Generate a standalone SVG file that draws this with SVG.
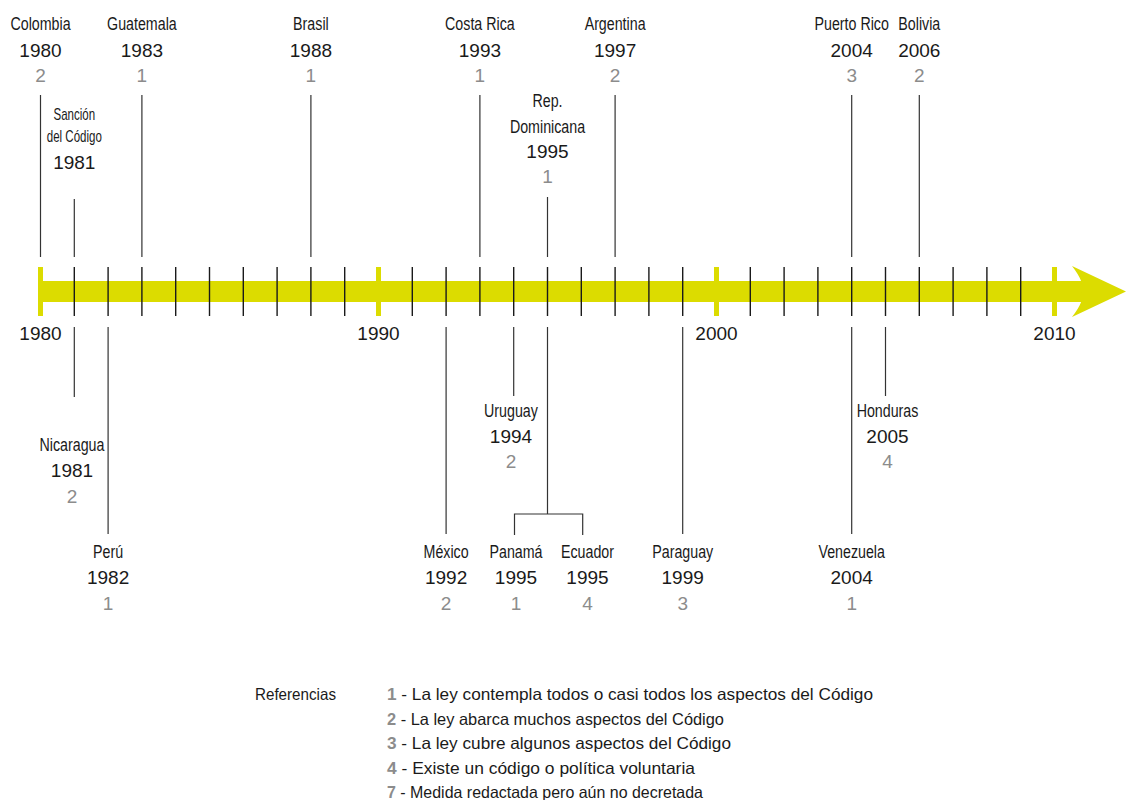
<svg xmlns="http://www.w3.org/2000/svg" width="1130" height="800" viewBox="0 0 1130 800">
<style>
text{font-family:"Liberation Sans",Arial,sans-serif;fill:#1a1a1a;text-anchor:middle}
.n{font-size:18.5px}
.s{font-size:16px}
.y{font-size:19px}
.g{font-size:19px;fill:#8c8c8c}
.lg{font-size:16.5px;text-anchor:start}
.lb{font-weight:bold;fill:#8c8c8c}
.ln{stroke:#333;stroke-width:1.2;fill:none}
.tk{stroke:#1a1a1a;stroke-width:1.4}
.dm{stroke:#dcdc00;stroke-width:5}
</style>
<rect width="1130" height="800" fill="#fff"/>
<g id="axis">
<rect x="40" y="281" width="1045" height="21" fill="#dcdc00"/>
<path d="M1072,266 Q1086,284 1081,291.5 Q1086,299 1072,317 L1126,291.5 Z" fill="#dcdc00"/>
<g class="tk">
<line x1="74.3" y1="267" x2="74.3" y2="316"/><line x1="108.1" y1="267" x2="108.1" y2="316"/><line x1="141.9" y1="267" x2="141.9" y2="316"/><line x1="175.7" y1="267" x2="175.7" y2="316"/><line x1="209.5" y1="267" x2="209.5" y2="316"/><line x1="243.3" y1="267" x2="243.3" y2="316"/><line x1="277.1" y1="267" x2="277.1" y2="316"/><line x1="310.9" y1="267" x2="310.9" y2="316"/><line x1="344.7" y1="267" x2="344.7" y2="316"/>
<line x1="412.3" y1="267" x2="412.3" y2="316"/><line x1="446.1" y1="267" x2="446.1" y2="316"/><line x1="479.9" y1="267" x2="479.9" y2="316"/><line x1="513.7" y1="267" x2="513.7" y2="316"/><line x1="547.5" y1="267" x2="547.5" y2="316"/><line x1="581.3" y1="267" x2="581.3" y2="316"/><line x1="615.1" y1="267" x2="615.1" y2="316"/><line x1="648.9" y1="267" x2="648.9" y2="316"/><line x1="682.7" y1="267" x2="682.7" y2="316"/>
<line x1="750.3" y1="267" x2="750.3" y2="316"/><line x1="784.1" y1="267" x2="784.1" y2="316"/><line x1="817.9" y1="267" x2="817.9" y2="316"/><line x1="851.7" y1="267" x2="851.7" y2="316"/><line x1="885.5" y1="267" x2="885.5" y2="316"/><line x1="919.3" y1="267" x2="919.3" y2="316"/><line x1="953.1" y1="267" x2="953.1" y2="316"/><line x1="986.9" y1="267" x2="986.9" y2="316"/><line x1="1020.7" y1="267" x2="1020.7" y2="316"/>
</g>
<g class="dm">
<line x1="40.5" y1="267" x2="40.5" y2="316"/><line x1="378.5" y1="267" x2="378.5" y2="316"/><line x1="716.5" y1="267" x2="716.5" y2="316"/><line x1="1054.5" y1="267" x2="1054.5" y2="316"/>
</g>
<text class="y" x="40.5" y="340">1980</text>
<text class="y" x="378.5" y="340">1990</text>
<text class="y" x="716.5" y="340">2000</text>
<text class="y" x="1054.5" y="340">2010</text>
</g>
<g id="connectors" class="ln">
<line x1="40.5" y1="95" x2="40.5" y2="257"/>
<line x1="74.3" y1="199" x2="74.3" y2="257"/>
<line x1="141.9" y1="95" x2="141.9" y2="257"/>
<line x1="310.9" y1="95" x2="310.9" y2="257"/>
<line x1="479.9" y1="95" x2="479.9" y2="257"/>
<line x1="547.5" y1="197" x2="547.5" y2="257"/>
<line x1="615.1" y1="95" x2="615.1" y2="257"/>
<line x1="851.7" y1="95" x2="851.7" y2="257"/>
<line x1="919.3" y1="95" x2="919.3" y2="257"/>
<line x1="74.3" y1="327" x2="74.3" y2="397"/>
<line x1="108.1" y1="327" x2="108.1" y2="534"/>
<line x1="446.1" y1="327" x2="446.1" y2="534"/>
<line x1="513.7" y1="327" x2="513.7" y2="396"/>
<path d="M547.5,327 V514 M514.5,535 V514 H582.7 V535"/>
<line x1="682.7" y1="327" x2="682.7" y2="534"/>
<line x1="851.7" y1="327" x2="851.7" y2="534"/>
<line x1="885.5" y1="327" x2="885.5" y2="396"/>
</g>
<g id="colombia"><text class="n" transform="translate(40.5,30) scale(0.77,1)">Colombia</text><text class="y" x="40.5" y="56.5">1980</text><text class="g" x="40.5" y="81.5">2</text></g>
<g id="sancion"><text class="s" transform="translate(74.3,120) scale(0.72,1)">Sanción</text><text class="s" transform="translate(74.3,142) scale(0.72,1)">del Código</text><text class="y" x="74.3" y="168.5">1981</text></g>
<g id="guatemala"><text class="n" transform="translate(141.9,30) scale(0.77,1)">Guatemala</text><text class="y" x="141.9" y="56.5">1983</text><text class="g" x="141.9" y="81.5">1</text></g>
<g id="brasil"><text class="n" transform="translate(310.9,30) scale(0.77,1)">Brasil</text><text class="y" x="310.9" y="56.5">1988</text><text class="g" x="310.9" y="81.5">1</text></g>
<g id="costarica"><text class="n" transform="translate(479.9,30) scale(0.77,1)">Costa Rica</text><text class="y" x="479.9" y="56.5">1993</text><text class="g" x="479.9" y="81.5">1</text></g>
<g id="repdominicana"><text class="n" transform="translate(547.5,107) scale(0.77,1)">Rep.</text><text class="n" transform="translate(547.5,133) scale(0.77,1)">Dominicana</text><text class="y" x="547.5" y="158">1995</text><text class="g" x="547.5" y="182.5">1</text></g>
<g id="argentina"><text class="n" transform="translate(615.1,30) scale(0.77,1)">Argentina</text><text class="y" x="615.1" y="56.5">1997</text><text class="g" x="615.1" y="81.5">2</text></g>
<g id="puertorico"><text class="n" transform="translate(851.7,30) scale(0.77,1)">Puerto Rico</text><text class="y" x="851.7" y="56.5">2004</text><text class="g" x="851.7" y="81.5">3</text></g>
<g id="bolivia"><text class="n" transform="translate(919.3,30) scale(0.77,1)">Bolivia</text><text class="y" x="919.3" y="56.5">2006</text><text class="g" x="919.3" y="81.5">2</text></g>
<g id="nicaragua"><text class="n" transform="translate(72,451) scale(0.77,1)">Nicaragua</text><text class="y" x="72" y="477">1981</text><text class="g" x="72" y="502.5">2</text></g>
<g id="peru"><text class="n" transform="translate(108.1,558) scale(0.77,1)">Perú</text><text class="y" x="108.1" y="584">1982</text><text class="g" x="108.1" y="609.5">1</text></g>
<g id="mexico"><text class="n" transform="translate(446.1,558) scale(0.77,1)">México</text><text class="y" x="446.1" y="584">1992</text><text class="g" x="446.1" y="609.5">2</text></g>
<g id="uruguay"><text class="n" transform="translate(511,416.5) scale(0.77,1)">Uruguay</text><text class="y" x="511" y="443">1994</text><text class="g" x="511" y="467.5">2</text></g>
<g id="panama"><text class="n" transform="translate(516,558) scale(0.77,1)">Panamá</text><text class="y" x="516" y="584">1995</text><text class="g" x="516" y="609.5">1</text></g>
<g id="ecuador"><text class="n" transform="translate(587.5,558) scale(0.77,1)">Ecuador</text><text class="y" x="587.5" y="584">1995</text><text class="g" x="587.5" y="609.5">4</text></g>
<g id="paraguay"><text class="n" transform="translate(682.7,558) scale(0.77,1)">Paraguay</text><text class="y" x="682.7" y="584">1999</text><text class="g" x="682.7" y="609.5">3</text></g>
<g id="venezuela"><text class="n" transform="translate(851.7,558) scale(0.77,1)">Venezuela</text><text class="y" x="851.7" y="584">2004</text><text class="g" x="851.7" y="609.5">1</text></g>
<g id="honduras"><text class="n" transform="translate(887.5,416.5) scale(0.77,1)">Honduras</text><text class="y" x="887.5" y="443">2005</text><text class="g" x="887.5" y="468">4</text></g>
<g id="legend">
<text class="lg" x="255" y="700" textLength="81" lengthAdjust="spacingAndGlyphs">Referencias</text>
<text class="lg" x="387" y="700" textLength="486" lengthAdjust="spacingAndGlyphs"><tspan class="lb">1</tspan> - La ley contempla todos o casi todos los aspectos del Código</text>
<text class="lg" x="387" y="724.5" textLength="337" lengthAdjust="spacingAndGlyphs"><tspan class="lb">2</tspan> - La ley abarca muchos aspectos del Código</text>
<text class="lg" x="387" y="749" textLength="344" lengthAdjust="spacingAndGlyphs"><tspan class="lb">3</tspan> - La ley cubre algunos aspectos del Código</text>
<text class="lg" x="387" y="773.5" textLength="308" lengthAdjust="spacingAndGlyphs"><tspan class="lb">4</tspan> - Existe un código o política voluntaria</text>
<text class="lg" x="387" y="798" textLength="316" lengthAdjust="spacingAndGlyphs"><tspan class="lb">7</tspan> - Medida redactada pero aún no decretada</text>
</g>
</svg>
